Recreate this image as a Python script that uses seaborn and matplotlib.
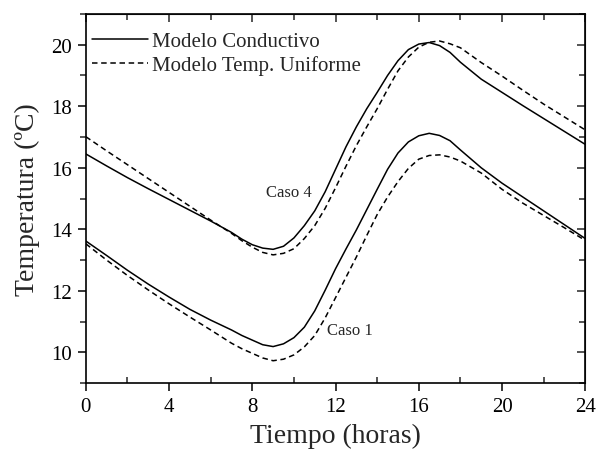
import pandas as pd
import matplotlib
matplotlib.use('Agg')
import matplotlib.pyplot as plt
from matplotlib.ticker import MultipleLocator
import seaborn as sns

# Datos (temperatura en ºC)
horas = [0, 1, 2, 3, 4, 5, 6, 7, 7.5, 8, 8.5, 9, 9.5, 10, 10.5, 11, 11.5, 12, 12.5, 13, 13.5,
         14, 14.5, 15, 15.5, 16, 16.5, 17, 17.5, 18, 19, 20, 21, 22, 23, 24]

caso4_conductivo = [16.45, 16.06, 15.68, 15.32, 14.97, 14.62, 14.27, 13.90, 13.68, 13.50, 13.39, 13.35,
                    13.45, 13.72, 14.12, 14.60, 15.22, 15.95, 16.68, 17.33, 17.92, 18.45, 19.00, 19.48,
                    19.84, 20.02, 20.07, 19.97, 19.75, 19.43, 18.88, 18.45, 18.02, 17.60, 17.18, 16.76]
caso4_uniforme = [17.01, 16.55, 16.10, 15.65, 15.20, 14.75, 14.30, 13.87, 13.63, 13.42, 13.25, 13.17,
                  13.22, 13.37, 13.70, 14.12, 14.68, 15.35, 16.05, 16.72, 17.33, 17.92, 18.55, 19.15,
                  19.60, 19.92, 20.08, 20.12, 20.03, 19.90, 19.42, 18.98, 18.52, 18.07, 17.65, 17.23]
caso1_conductivo = [13.62, 13.15, 12.67, 12.22, 11.80, 11.40, 11.05, 10.73, 10.55, 10.40, 10.25, 10.19,
                    10.28, 10.48, 10.82, 11.35, 12.02, 12.72, 13.36, 13.98, 14.64, 15.30, 15.95, 16.48,
                    16.84, 17.04, 17.12, 17.05, 16.88, 16.58, 16.00, 15.50, 15.05, 14.60, 14.15, 13.70]
caso1_uniforme = [13.53, 13.00, 12.50, 12.03, 11.58, 11.15, 10.73, 10.30, 10.12, 9.97, 9.82, 9.73,
                  9.78, 9.92, 10.18, 10.55, 11.12, 11.78, 12.44, 13.10, 13.80, 14.48, 15.05, 15.55,
                  15.98, 16.28, 16.40, 16.42, 16.35, 16.22, 15.83, 15.30, 14.85, 14.45, 14.05, 13.64]

filas = []
for caso, cond, unif in [('Caso 4', caso4_conductivo, caso4_uniforme),
                         ('Caso 1', caso1_conductivo, caso1_uniforme)]:
    for h, c, u in zip(horas, cond, unif):
        filas.append({'Hora': h, 'T': c, 'Modelo': 'Modelo Conductivo', 'Caso': caso})
        filas.append({'Hora': h, 'T': u, 'Modelo': 'Modelo Temp. Uniforme', 'Caso': caso})
df = pd.DataFrame(filas)

sns.set_style('ticks')
plt.rcParams['font.family'] = ['Liberation Serif', 'DejaVu Serif']

fig = plt.figure(figsize=(5.96, 4.52), dpi=100)
ax = fig.add_axes([0.144, 0.150, 0.838, 0.817])

sns.lineplot(data=df, x='Hora', y='T', hue='Modelo', style='Modelo', units='Caso',
             estimator=None, palette=['black', 'black'],
             dashes={'Modelo Conductivo': '', 'Modelo Temp. Uniforme': (3.6, 2.4)},
             linewidth=1.1, ax=ax)

ax.set_xlim(0, 24)
ax.set_ylim(9, 21)
ax.xaxis.set_major_locator(MultipleLocator(4))
ax.xaxis.set_minor_locator(MultipleLocator(2))
ax.yaxis.set_major_locator(MultipleLocator(2))
ax.yaxis.set_minor_locator(MultipleLocator(1))

for s in ax.spines.values():
    s.set_visible(True)
    s.set_linewidth(1.2)
    s.set_color('black')

ax.tick_params(which='major', direction='out', length=6, width=1.1, labelsize=15, colors='black', pad=4)
ax.tick_params(axis='y', which='minor', direction='out', length=4, width=1.1)
ax.tick_params(axis='x', which='minor', direction='in', length=4, width=1.1)

# ticks interiores arriba y a la derecha
top = ax.secondary_xaxis('top')
top.xaxis.set_major_locator(MultipleLocator(4))
top.xaxis.set_minor_locator(MultipleLocator(2))
top.tick_params(which='major', direction='in', length=6, width=1.1, labeltop=False)
top.tick_params(which='minor', direction='in', length=4, width=1.1)
right = ax.secondary_yaxis('right')
right.yaxis.set_major_locator(MultipleLocator(2))
right.yaxis.set_minor_locator(MultipleLocator(1))
right.tick_params(which='major', direction='in', length=6, width=1.1, labelright=False)
right.tick_params(which='minor', direction='in', length=4, width=1.1)

ax.set_xlabel('Tiempo (horas)', fontsize=20, labelpad=5)
ax.set_ylabel('Temperatura (ºC)', fontsize=20, labelpad=8)

ax.text(9.77, 15.22, 'Caso 4', fontsize=12, ha='center', va='center')
ax.text(12.68, 10.73, 'Caso 1', fontsize=12, ha='center', va='center')

leg = ax.legend(loc='upper left', frameon=False, fontsize=15, handlelength=2.7,
                handletextpad=0.2, borderaxespad=0.3, labelspacing=0.2,
                bbox_to_anchor=(-0.017, 0.992))

fig.savefig('out.png', dpi=100)
